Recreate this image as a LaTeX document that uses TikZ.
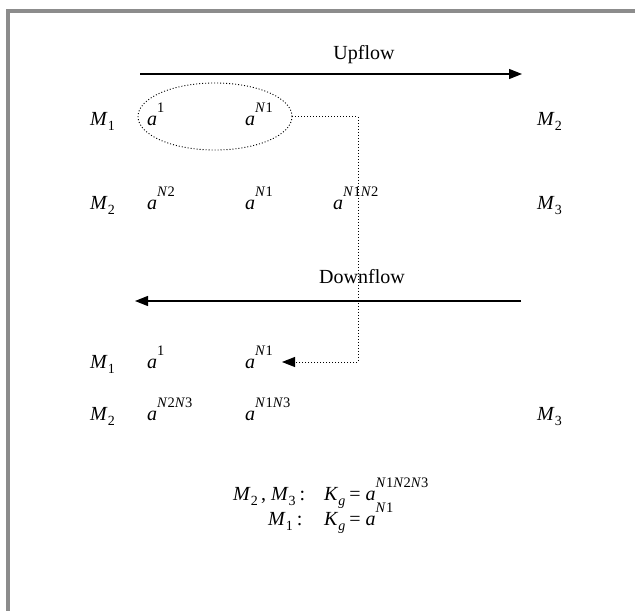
\documentclass[tikz,border=0pt]{standalone}
\usepackage{fontspec}
\setmainfont{Liberation Serif}
\usetikzlibrary{arrows.meta,shapes.geometric}
\definecolor{framegray}{RGB}{140,140,140}
\newcommand{\mv}[2]{\textit{#1}\raisebox{-5pt}{\fontsize{14}{14}\selectfont #2}}
\newcommand{\ap}[1]{\textit{a}\raisebox{12.5pt}{\fontsize{14.5}{14.5}\selectfont #1}}
\newcommand{\Nn}[1]{\textit{N}#1}
\tikzset{
  txt/.style={anchor=base west,inner sep=0pt,font=\fontsize{20}{24}\selectfont},
  flow/.style={->,line width=1.2pt},
  link/.style={line width=0.9pt,dash pattern=on 1pt off 2pt},
}
\begin{document}
\begin{tikzpicture}[x=1pt,y=-1pt,>={Triangle[length=13pt,width=10pt]}]
  \useasboundingbox (0,0) rectangle (635,611);
  \fill[framegray] (6,9) rectangle (635,13);
  \fill[framegray] (6,9) rectangle (10,611);
  \coordinate (U1) at (140,74);
  \coordinate (U2) at (522,74);
  \coordinate (D1) at (521,301);
  \coordinate (D2) at (135,301);
  \coordinate (bend) at (358,116.5);
  \coordinate (tip) at (282,362);
  \draw[flow] (U1)--(U2);
  \draw[flow] (D1)--(D2);
  \node[txt,anchor=base] (up) at (364,59) {Upflow};
  \node[txt,anchor=base] (down) at (362,283) {Downflow};
  \node[txt] (m1a) at (90,125) {\mv{M}{1}};
  \node[txt] (a1a) at (147,125) {\ap{1}};
  \node[txt] (a1b) at (245,125) {\ap{\Nn1}};
  \node[txt] (m2r) at (537,125) {\mv{M}{2}};
  \node[txt] (m2a) at (90,209) {\mv{M}{2}};
  \node[txt] (a2a) at (147,209) {\ap{\Nn2}};
  \node[txt] (a2b) at (245,209) {\ap{\Nn1}};
  \node[txt] (a2c) at (333,209) {\ap{\Nn1\Nn2}};
  \node[txt] (m3r) at (537,209) {\mv{M}{3}};
  \node[txt] (m1b) at (90,368) {\mv{M}{1}};
  \node[txt] (a3a) at (147,368) {\ap{1}};
  \node[txt] (a3b) at (245,368) {\ap{\Nn1}};
  \node[txt] (m2b) at (90,420) {\mv{M}{2}};
  \node[txt] (a4a) at (147,420) {\ap{\Nn2\Nn3}};
  \node[txt] (a4b) at (245,420) {\ap{\Nn1\Nn3}};
  \node[txt] (m3s) at (537,420) {\mv{M}{3}};
  \node[draw,ellipse,link,minimum width=154pt,minimum height=67pt,inner sep=0pt] (grp) at (215,116.5) {};
  \draw[link,->] (grp.east) -- (bend) |- (tip);
  \node[txt] (f1l) at (233,500) {\mv{M}{2}\,, \mv{M}{3}\hspace{4pt}:};
  \node[txt] (f1r) at (324,500) {\mv{K}{\textit{g}}\hspace{4pt}= \ap{\Nn1\Nn2\Nn3}};
  \node[txt] (f2l) at (268,525) {\mv{M}{1}\hspace{4pt}:};
  \node[txt] (f2r) at (324,525) {\mv{K}{\textit{g}}\hspace{4pt}= \ap{\Nn1}};
\end{tikzpicture}
\end{document}
